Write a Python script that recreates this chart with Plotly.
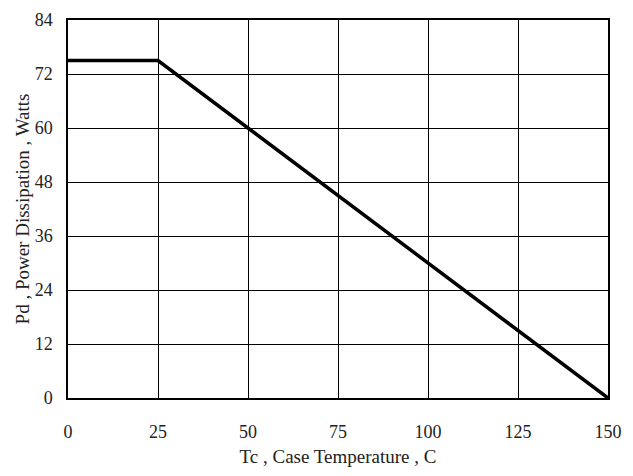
import plotly.graph_objects as go

temp_c = [0, 25, 150]
power_w = [75, 75, 0]
x_ticks = [0, 25, 50, 75, 100, 125, 150]
y_ticks = [0, 12, 24, 36, 48, 60, 72, 84]

fig = go.Figure()
fig.add_trace(go.Scatter(x=temp_c, y=power_w, mode="lines",
                         line=dict(color="black", width=3.5), showlegend=False))

font = dict(family="Liberation Serif, Times New Roman, serif", color="#222", size=18)
fig.update_layout(
    width=633, height=476,
    margin=dict(l=68, r=25, t=10, b=78),
    paper_bgcolor="white", plot_bgcolor="white",
    font=font,
    xaxis=dict(range=[0, 150], tickvals=x_ticks, showgrid=True, gridcolor="black", gridwidth=1.3,
               showline=True, linecolor="black", linewidth=1.5, mirror=True, zeroline=False,
               ticks="", ticklabelstandoff=17,
               title=dict(text="Tc , Case Temperature , C", standoff=8, font=dict(size=19))),
    yaxis=dict(range=[0, 84], tickvals=y_ticks, showgrid=True, gridcolor="black", gridwidth=1.3,
               showline=True, linecolor="black", linewidth=1.5, mirror=True, zeroline=False,
               ticks="", ticklabelstandoff=10,
               title=dict(text="Pd , Power Dissipation , Watts", standoff=0, font=dict(size=19))),
)
fig.write_html("out.html")
